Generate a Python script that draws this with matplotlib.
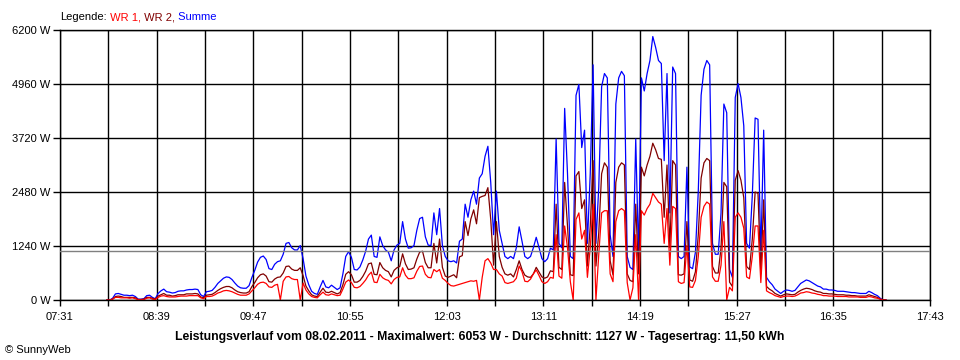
import matplotlib
matplotlib.use('Agg')
import matplotlib.pyplot as plt
import numpy as np

plt.rcParams['font.family'] = ['Liberation Sans', 'DejaVu Sans']

# Messwerte alle 2 Minuten ab 08:04, Leistung in W
start_min = 8 * 60 + 4
step_min = 2

summe = [
    0, 0, 40, 140, 150, 130, 110, 110, 100, 110, 80, 20, 20,                              # 08:04
    30, 100, 110, 60, 30, 150, 210, 250, 190, 180, 160, 170, 200, 210, 210,                # 08:30
    230, 240, 240, 250, 240, 120, 80, 190, 200, 220, 290, 380, 440, 500, 530,              # 09:00
    520, 470, 390, 320, 280, 270, 270, 330, 520, 680, 870, 980, 1010, 930, 720,            # 09:30
    700, 820, 880, 900, 1050, 1300, 1320, 1200, 1150, 1150, 1250, 950, 550, 350, 200,      # 10:00
    150, 130, 300, 450, 300, 280, 340, 290, 240, 280, 600, 1000, 1110, 980, 700,           # 10:30
    690, 760, 920, 1120, 1400, 1490, 1000, 980, 1450, 1250, 1150, 1100, 900, 1150, 1260,   # 11:00
    1300, 1800, 1400, 1190, 1200, 1250, 1600, 1870, 1900, 1450, 1260, 1250, 2000, 1500, 2100,  # 11:30
    1250, 1000, 900, 880, 900, 850, 1350, 1400, 2200, 1900, 2300, 2500, 2200, 2800, 2900,  # 12:00
    3300, 3530, 2700, 1500, 2500, 1600, 1300, 1000, 950, 1000, 950, 1200, 1680, 1350, 1000,  # 12:30
    950, 1000, 1200, 1440, 1200, 950, 880, 950, 1190, 1150, 3700, 1300, 1200, 4400, 2900,  # 13:00
    1000, 950, 4700, 4950, 3500, 3900, 1300, 2900, 5400, 1300, 2600, 4900, 5200, 5100, 1500,  # 13:30
    1000, 4500, 5100, 5250, 5150, 1000, 750, 700, 3700, 1000, 5100, 4800, 5200, 5500, 6050,  # 14:00
    5800, 5500, 5430, 3200, 5200, 2000, 5350, 5200, 1000, 950, 1000, 3050, 760, 720, 1100,  # 14:30
    2500, 4700, 5300, 5500, 5400, 1300, 1050, 1050, 2000, 4500, 4300, 700, 520, 4650, 4970,  # 15:00
    4650, 4000, 1300, 1190, 2400, 4180, 4150, 1000, 3900, 520, 420, 350, 250, 200, 150,   # 15:30
    200, 230, 220, 200, 220, 300, 380, 420, 460, 440, 400, 360, 320, 300, 250,             # 16:00
    250, 230, 230, 220, 200, 200, 200, 190, 180, 170, 170, 160, 150, 150, 150,             # 16:30
    200, 170, 130, 100, 40, 0, 0,                                                          # 17:00
]

wr1 = [
    0, 0, 20, 60, 60, 50, 50, 50, 40, 50, 30, 10, 10,
    10, 40, 50, 20, 10, 60, 90, 100, 80, 70, 70, 70, 80, 90, 90,
    90, 100, 100, 100, 100, 50, 30, 80, 80, 90, 120, 160, 180, 210, 220,
    210, 190, 160, 130, 110, 110, 110, 140, 210, 280, 360, 400, 410, 380, 300,
    290, 340, 360, 0, 430, 530, 540, 490, 470, 470, 0, 390, 230, 140, 80,
    60, 50, 120, 180, 120, 110, 140, 120, 100, 110, 250, 410, 460, 400, 290,
    280, 310, 380, 460, 570, 640, 410, 400, 590, 510, 470, 450, 370, 470, 520,
    530, 740, 570, 490, 490, 510, 660, 770, 780, 590, 520, 510, 700, 650, 700,
    500, 450, 380, 330, 320, 340, 360, 380, 400, 420, 440, 430, 450, 0, 520,
    900, 950, 850, 700, 700, 600, 550, 400, 380, 400, 420, 500, 780, 650, 430,
    420, 480, 600, 690, 560, 420, 380, 420, 520, 500, 1500, 550, 500, 1700, 1200,
    420, 0, 1850, 2000, 1400, 1600, 520, 1200, 2200, 0, 1050, 2000, 2050, 2050, 600,
    420, 1800, 2050, 2100, 2050, 400, 0, 280, 1500, 0, 2050, 1950, 2100, 2200, 2450,
    2350, 2250, 2200, 1300, 2100, 800, 2150, 2100, 420, 380, 400, 1250, 300, 290, 450,
    1000, 1900, 2150, 2250, 2200, 530, 430, 430, 800, 1800, 0, 290, 210, 1900, 2000,
    1900, 1650, 530, 490, 1000, 1700, 1700, 400, 1600, 210, 170, 140, 100, 80, 60,
    80, 90, 90, 80, 90, 120, 160, 170, 190, 180, 160, 150, 130, 120, 100,
    100, 90, 90, 90, 80, 80, 80, 80, 70, 70, 70, 70, 60, 60, 60,
    80, 70, 50, 40, 20, 0, 0,
]

wr2 = [
    0, 0, 20, 80, 90, 80, 60, 60, 60, 60, 50, 10, 10,
    20, 60, 60, 40, 20, 90, 120, 150, 110, 110, 90, 100, 120, 120, 120,
    140, 140, 140, 150, 140, 70, 50, 110, 120, 130, 170, 220, 260, 290, 310,
    310, 280, 230, 190, 170, 160, 160, 190, 310, 400, 510, 580, 600, 550, 420,
    410, 480, 520, 530, 620, 770, 780, 710, 680, 680, 740, 560, 320, 210, 120,
    90, 80, 180, 270, 180, 170, 200, 170, 140, 170, 350, 590, 650, 580, 410,
    410, 450, 540, 660, 830, 850, 590, 580, 860, 740, 680, 650, 530, 680, 740,
    770, 1060, 830, 700, 710, 740, 940, 1100, 1120, 860, 740, 740, 1300, 850, 1400,
    750, 550, 520, 550, 580, 510, 990, 1020, 1800, 1480, 1860, 2070, 1750, 2350, 2380,
    2400, 2580, 1850, 800, 1800, 1000, 750, 600, 570, 600, 530, 700, 900, 700, 570,
    530, 520, 600, 750, 640, 530, 500, 530, 670, 650, 2200, 750, 700, 2700, 1700,
    580, 560, 2850, 2950, 2100, 2300, 780, 1700, 3200, 780, 1550, 2900, 3150, 3050, 900,
    580, 2700, 3050, 3150, 3100, 600, 450, 420, 2200, 600, 3050, 2850, 3100, 3300, 3600,
    3450, 3250, 3230, 1900, 3100, 1200, 3200, 3100, 580, 570, 600, 1800, 460, 430, 650,
    1500, 2800, 3150, 3250, 3200, 770, 620, 620, 1200, 2700, 2600, 410, 310, 2750, 2970,
    2750, 2350, 770, 700, 1400, 2480, 2450, 600, 2300, 310, 250, 210, 150, 120, 90,
    120, 140, 130, 120, 130, 180, 220, 250, 270, 260, 240, 210, 190, 180, 150,
    150, 140, 140, 130, 120, 120, 120, 110, 110, 100, 100, 90, 90, 90, 90,
    120, 100, 80, 60, 20, 0, 0,
]

x_labels = ['07:31', '08:39', '09:47', '10:55', '12:03', '13:11', '14:19', '15:27', '16:35', '17:43']
y_ticks = [0, 1240, 2480, 3720, 4960, 6200]
durchschnitt = 1127
titel = ('Leistungsverlauf vom 08.02.2011 - Maximalwert: 6053 W - '
         'Durchschnitt: 1127 W - Tagesertrag: 11,50 kWh')

ROT = '#ff0000'
DUNKELROT = '#800000'
BLAU = '#0000ff'


def zeit_zu_min(s):
    h, m = s.split(':')
    return int(h) * 60 + int(m)


fig = plt.figure(figsize=(9.6, 3.6), dpi=100)
ax = fig.add_axes([60 / 960, 60 / 360, 870 / 960, 270 / 360])

t_s = start_min + step_min * np.arange(len(summe))
t_1 = start_min + step_min * np.arange(len(wr1))
t_2 = start_min + step_min * np.arange(len(wr2))

ax.plot(t_s, summe, color=BLAU, lw=0.9, zorder=2)
ax.plot(t_2, wr2, color=DUNKELROT, lw=0.9, zorder=2.1)
ax.plot(t_1, wr1, color=ROT, lw=0.9, zorder=2.2)
ax.axhline(durchschnitt, color='#808080', lw=1, zorder=3)

# Achsen: Beschriftung alle 68 min, Gitter alle 34 min
x0 = zeit_zu_min(x_labels[0])
x1 = zeit_zu_min(x_labels[-1])
gitter = np.arange(x0, x1 + 1, 34)
ax.set_xlim(x0, x1)
ax.set_ylim(y_ticks[0], y_ticks[-1])
ax.set_xticks(gitter)
ax.set_xticklabels([x_labels[i // 2] if i % 2 == 0 else '' for i in range(len(gitter))])
ax.set_yticks(y_ticks)
ax.set_yticklabels([f'{v} W' for v in y_ticks])

ax.grid(True, color='black', lw=1)
ax.set_axisbelow(True)
for sp in ax.spines.values():
    sp.set_color('black')
    sp.set_linewidth(1)
ax.tick_params(axis='x', length=4.5, width=1, pad=4, labelsize=8)
ax.tick_params(axis='y', length=5, width=1, pad=2, labelsize=8)

# Legende oben links
txt = fig.text(60 / 960, 1 - 17 / 360, 'Legende:', va='center', ha='left', fontsize=8)
for s, c in [(' WR 1,', ROT), (' WR 2,', DUNKELROT), (' Summe', BLAU)]:
    txt = ax.annotate(s, xy=(1, 0), xycoords=txt, va='bottom', ha='left',
                      fontsize=8, color=c, annotation_clip=False)

fig.text(480 / 960, 1 - 337 / 360, titel, ha='center', va='center',
         fontsize=8.8, fontweight='bold')
fig.text(5 / 960, 1 - 350 / 360, '\u00a9 SunnyWeb', ha='left', va='center', fontsize=8)

fig.savefig('out.png', dpi=100)
